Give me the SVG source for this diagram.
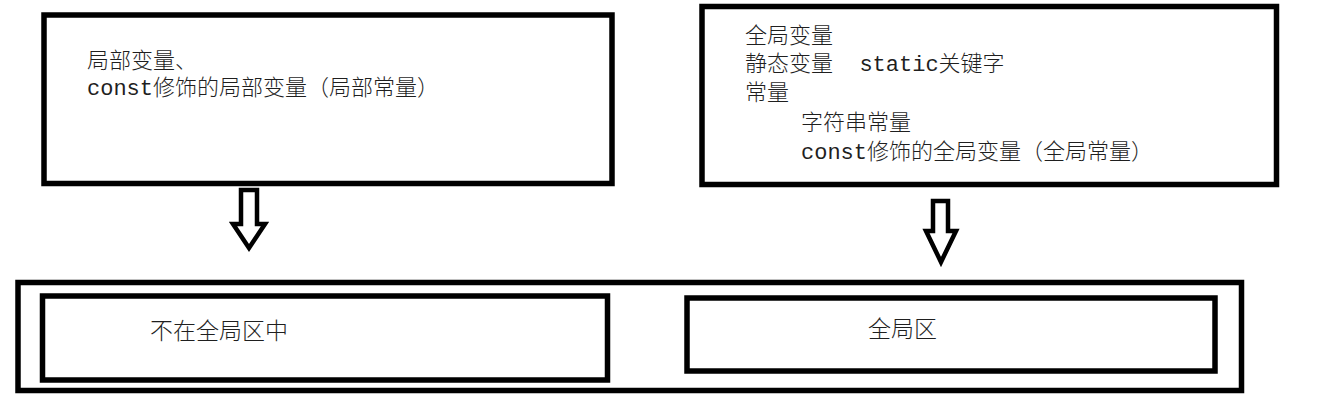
<svg xmlns="http://www.w3.org/2000/svg" width="1319" height="407" viewBox="0 0 1319 407">
<style>
.box{fill:#ffffff;stroke:#000000;stroke-width:5.5}
.arrow{fill:#ffffff;stroke:#000000;stroke-width:4.5;stroke-linejoin:miter}
.t{font-family:"Liberation Mono","Noto Sans CJK SC",monospace;font-size:22px;font-weight:300;fill:#1f1f1f;white-space:pre}
.c{font-family:"Noto Sans CJK SC",sans-serif;font-size:23px;font-weight:300;fill:#1f1f1f}
</style>
<rect width="1319" height="407" fill="#ffffff"/>
<g id="local-box">
<rect class="box" x="44" y="15" width="568" height="168.5"/>
<text class="t" x="87" y="68">局部变量、</text>
<text class="t" x="87" y="95">const修饰的局部变量（局部常量）</text>
</g>
<g id="global-box">
<rect class="box" x="702" y="6.5" width="574.5" height="178"/>
<text class="t" x="745" y="43">全局变量</text>
<text class="t" x="745" y="71" xml:space="preserve">静态变量  static关键字</text>
<text class="t" x="745" y="100">常量</text>
<text class="t" x="801" y="130">字符串常量</text>
<text class="t" x="801" y="159">const修饰的全局变量（全局常量）</text>
</g>
<g id="connectors">
<polygon class="arrow" points="241,190 257,190 257,224 265,224 249,248 233,224 241,224"/>
<polygon class="arrow" points="933,201 948,201 948,231 956,231 941,262 926,231 933,231"/>
</g>
<g id="memory-box">
<rect class="box" x="18" y="282.5" width="1223.5" height="108"/>
</g>
<g id="not-global-area">
<rect class="box" x="42.5" y="296" width="565" height="84"/>
<text class="c" x="150" y="339">不在全局区中</text>
</g>
<g id="global-area">
<rect class="box" x="687" y="298" width="528" height="73"/>
<text class="c" x="868" y="337">全局区</text>
</g>
</svg>
